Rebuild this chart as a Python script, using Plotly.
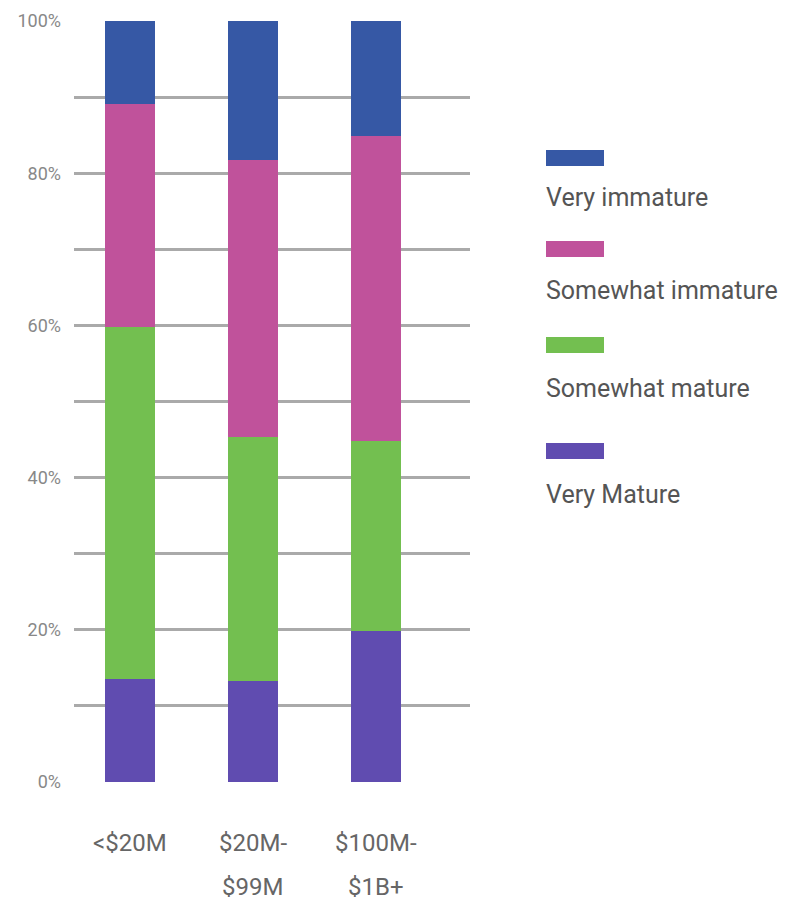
import plotly.graph_objects as go

categories = ["<$20M", "$20M-<br>$99M", "$100M-<br>$1B+"]
label_line1 = ["<$20M", "$20M-", "$100M-"]
label_line2 = ["", "$99M", "$1B+"]

very_mature = [13.5, 13.3, 19.8]
somewhat_mature = [46.3, 32.0, 25.0]
somewhat_immature = [29.3, 36.5, 40.1]
very_immature = [10.9, 18.2, 15.1]

series = [
    ("Very Mature", very_mature, "#604cb0"),
    ("Somewhat mature", somewhat_mature, "#73bf50"),
    ("Somewhat immature", somewhat_immature, "#c0529b"),
    ("Very immature", very_immature, "#3658a5"),
]

ytick_vals = list(range(0, 101, 10))
ytick_text = [f"{v}%" if v % 20 == 0 else "" for v in ytick_vals]

FONT = "Roboto, 'Liberation Sans', sans-serif"

# page body has an 8px margin; plot area in page coords: x 74..470, y 21..782
OFF = 8
PX0, PX1, PY0, PY1 = 74, 470, 21, 782
W, H = 793 - OFF, 907 - OFF
PW, PH = PX1 - PX0, PY1 - PY0

fig = go.Figure()
xs = [0, 1, 2]
for name, vals, color in series:
    fig.add_trace(go.Bar(x=xs, y=vals, name=name, marker=dict(color=color, line=dict(width=0)),
                         width=0.4, showlegend=False))

fig.update_layout(
    barmode="stack",
    width=W, height=H,
    margin=dict(l=PX0 - OFF, r=W - (PX1 - OFF), t=PY0 - OFF, b=H - (PY1 - OFF), pad=0,
                autoexpand=False),
    paper_bgcolor="white", plot_bgcolor="white",
    font=dict(family=FONT, color="#777777"),
    xaxis=dict(range=[-0.455, 2.764], showticklabels=False, showgrid=False, zeroline=False,
               showline=False, ticks="", automargin=False),
    yaxis=dict(range=[0, 100], tickvals=ytick_vals, ticktext=ytick_text, showgrid=True,
               gridcolor="#aaaaaa", gridwidth=3, zeroline=False, showline=False,
               tickfont=dict(size=18, color="#888888"), ticklabelstandoff=12, automargin=False),
)

def py(page_y):
    return (PY1 - page_y) / PH

def px(page_x):
    return (page_x - PX0) / PW

# category labels (two lines, generous spacing)
for i in xs:
    fig.add_annotation(x=i, y=py(843), xref="x", yref="paper", text=label_line1[i], showarrow=False,
                       font=dict(size=24, color="#666666", family=FONT), xanchor="center", yanchor="middle")
    if label_line2[i]:
        fig.add_annotation(x=i, y=py(887), xref="x", yref="paper", text=label_line2[i], showarrow=False,
                           font=dict(size=24, color="#666666", family=FONT), xanchor="center", yanchor="middle")

# custom legend: swatch above label
legend_items = [("Very immature", "#3658a5", 150, 198),
                ("Somewhat immature", "#c0529b", 241, 290),
                ("Somewhat mature", "#73bf50", 337, 388),
                ("Very Mature", "#604cb0", 443, 494)]
for text, color, sy, ty in legend_items:
    fig.add_shape(type="rect", xref="paper", yref="paper",
                  x0=px(546), x1=px(604), y0=py(sy + 16), y1=py(sy),
                  fillcolor=color, line=dict(width=0))
    fig.add_annotation(xref="paper", yref="paper", x=px(544), y=py(ty),
                       text=text, showarrow=False, xanchor="left", yanchor="middle",
                       font=dict(size=25, color="#555555", family=FONT))

fig.write_html("out.html")
